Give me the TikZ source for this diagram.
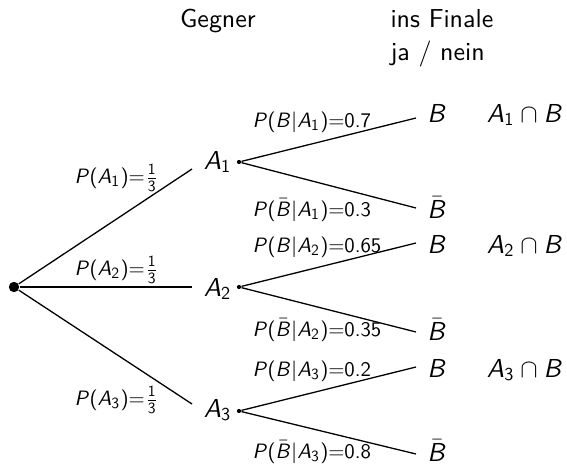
\documentclass[tikz,border=0pt]{standalone}
\DeclareFontFamily{OT1}{mysf}{}
\DeclareFontShape{OT1}{mysf}{m}{n}{<-> cmss10}{}
\DeclareFontShape{OT1}{mysf}{m}{sl}{<-> cmssi10}{}
\DeclareSymbolFont{sfit}{OT1}{mysf}{m}{sl}
\DeclareSymbolFont{sfrm}{OT1}{mysf}{m}{n}
\DeclareMathSymbol{A}{\mathalpha}{sfit}{`A}
\DeclareMathSymbol{B}{\mathalpha}{sfit}{`B}
\DeclareMathSymbol{P}{\mathalpha}{sfit}{`P}
\DeclareMathSymbol{0}{\mathalpha}{sfrm}{`0}
\DeclareMathSymbol{1}{\mathalpha}{sfrm}{`1}
\DeclareMathSymbol{2}{\mathalpha}{sfrm}{`2}
\DeclareMathSymbol{3}{\mathalpha}{sfrm}{`3}
\DeclareMathSymbol{5}{\mathalpha}{sfrm}{`5}
\DeclareMathSymbol{6}{\mathalpha}{sfrm}{`6}
\DeclareMathSymbol{7}{\mathalpha}{sfrm}{`7}
\DeclareMathSymbol{8}{\mathalpha}{sfrm}{`8}
\DeclareMathSymbol{.}{\mathord}{sfrm}{`.}
\DeclareMathSymbol{(}{\mathopen}{sfrm}{`(}
\DeclareMathSymbol{)}{\mathclose}{sfrm}{`)}
\DeclareMathSymbol{=}{\mathrel}{sfrm}{`=}
\begin{document}
\begin{tikzpicture}[x=0.385pt,y=-0.385pt,font=\sffamily,
  bigdot/.style={circle,fill,inner sep=0pt,minimum size=4pt},
  smalldot/.style={circle,fill,inner sep=0pt,minimum size=1.6pt},
  branch/.style={line width=0.5pt},
  plab/.style={font=\footnotesize\sffamily,inner sep=0pt,anchor=west},
  evt/.style={inner sep=0pt,anchor=base},
  head/.style={inner sep=0pt}]
\useasboundingbox (0,0) rectangle (567,463);
% headers
\node[head,anchor=base] (h1) at (218,27) {Gegner};
\node[head,anchor=base west] (h2) at (390,27) {ins Finale};
\node[head,anchor=base west] (h3) at (390,60) {ja / nein};
% root
\node[bigdot] (r) at (14,287) {};
\coordinate (e1) at (192,169);
\coordinate (e2) at (192,287);
\coordinate (e3) at (192,404);
\draw[branch] (r) -- (e1);
\draw[branch] (r) -- (e2);
\draw[branch] (r) -- (e3);
\node[plab] (p1) at (74,178) {$P(A_1){=}\frac{1}{3}$};
\node[plab] (p2) at (74,270) {$P(A_2){=}\frac{1}{3}$};
\node[plab] (p3) at (74,400) {$P(A_3){=}\frac{1}{3}$};
% second level
\node[smalldot] (a1) at (239,162) {};
\node[smalldot] (a2) at (239,287) {};
\node[smalldot] (a3) at (239,411) {};
\node[inner sep=0pt,anchor=east] (la1) at (232,162) {$A_1$};
\node[inner sep=0pt,anchor=east] (la2) at (232,289) {$A_2$};
\node[inner sep=0pt,anchor=east] (la3) at (232,410) {$A_3$};
\coordinate (f11) at (416,118);
\coordinate (f12) at (416,208);
\coordinate (f21) at (416,243);
\coordinate (f22) at (416,332);
\coordinate (f31) at (416,367);
\coordinate (f32) at (416,454);
\draw[branch] (a1) -- (f11);
\draw[branch] (a1) -- (f12);
\draw[branch] (a2) -- (f21);
\draw[branch] (a2) -- (f22);
\draw[branch] (a3) -- (f31);
\draw[branch] (a3) -- (f32);
\node[plab] (q11) at (252,122) {$P(B|A_1){=}0.7$};
\node[plab] (q12) at (252,210) {$P(\bar B|A_1){=}0.3$};
\node[plab] (q21) at (252,247) {$P(B|A_2){=}0.65$};
\node[plab] (q22) at (252,330) {$P(\bar B|A_2){=}0.35$};
\node[plab] (q31) at (252,371) {$P(B|A_3){=}0.2$};
\node[plab] (q32) at (252,452) {$P(\bar B|A_3){=}0.8$};
% outcomes
\node[evt] (b11) at (437,122) {$B$};
\node[evt] (b12) at (437,218) {$\bar B$};
\node[evt] (b21) at (437,253) {$B$};
\node[evt] (b22) at (437,340) {$\bar B$};
\node[evt] (b31) at (437,377) {$B$};
\node[evt] (b32) at (437,461) {$\bar B$};
\node[evt] (c1) at (525,122) {$A_1\cap B$};
\node[evt] (c2) at (525,253) {$A_2\cap B$};
\node[evt] (c3) at (525,377) {$A_3\cap B$};
\end{tikzpicture}
\end{document}
